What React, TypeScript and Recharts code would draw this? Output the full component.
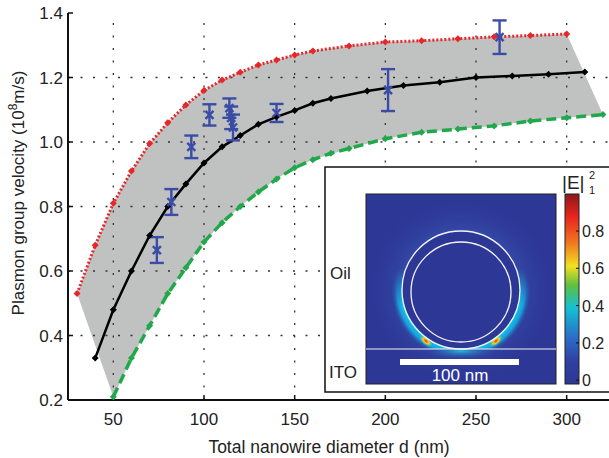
import {
  ComposedChart,
  Area,
  Line,
  Scatter,
  ErrorBar,
  XAxis,
  YAxis,
  ReferenceLine,
  Label,
} from "recharts";

// upper bound (red dotted)
const redX = [30, 40, 50, 60, 70, 80, 90, 100, 110, 120, 130, 140, 150, 160, 180, 200, 220, 240, 260, 280, 300];
const redY = [0.53, 0.68, 0.81, 0.91, 0.995, 1.06, 1.115, 1.16, 1.192, 1.216, 1.239, 1.254, 1.27, 1.282, 1.298, 1.31, 1.314, 1.32, 1.326, 1.33, 1.335];

// lower bound (green dashed)
const greenX = [50, 60, 70, 80, 90, 100, 110, 120, 130, 140, 150, 160, 170, 180, 200, 220, 240, 260, 280, 300, 320];
const greenY = [0.21, 0.33, 0.43, 0.53, 0.61, 0.69, 0.75, 0.8, 0.845, 0.885, 0.92, 0.945, 0.965, 0.98, 1.01, 1.03, 1.04, 1.05, 1.065, 1.075, 1.085];

// simulation (black)
const blackX = [40, 50, 60, 70, 80, 90, 100, 110, 120, 130, 140, 150, 160, 170, 190, 210, 230, 250, 270, 290, 310];
const blackY = [0.33, 0.48, 0.6, 0.71, 0.8, 0.87, 0.935, 0.985, 1.02, 1.055, 1.078, 1.098, 1.12, 1.135, 1.158, 1.175, 1.185, 1.2, 1.205, 1.21, 1.217];

// measured points (blue)
const expX = [74, 82, 93, 103, 114, 115, 116, 140, 201.5, 263];
const expY = [0.665, 0.814, 0.985, 1.084, 1.105, 1.075, 1.045, 1.09, 1.161, 1.325];
const expErr = [0.04, 0.04, 0.035, 0.033, 0.03, 0.035, 0.04, 0.028, 0.065, 0.052];

// band edge corners
const bandLeftX = [30, 40];
const bandLeftLow = [0.53, 0.37];
const bandRightX = [320];
const bandRightHigh = [1.085];

const xTicks = [50, 100, 150, 200, 250, 300];
const yTicks = [0.2, 0.4, 0.6, 0.8, 1.0, 1.2, 1.4];
const gridY = [0.4, 0.6, 0.8, 1.0, 1.2];
const cbarTicks = ["0.8", "0.6", "0.4", "0.2", "0"];

const redData = redX.map((x, i) => ({ x, y: redY[i] }));
const greenData = greenX.map((x, i) => ({ x, y: greenY[i] }));
const blackData = blackX.map((x, i) => ({ x, y: blackY[i] }));
const expData = expX.map((x, i) => ({ x, y: expY[i], err: expErr[i] }));

const bandData = [
  ...bandLeftX.map((x, i) => ({ x, band: [bandLeftLow[i], redY[redX.indexOf(x)]] })),
  ...redX
    .filter((x) => greenX.includes(x))
    .map((x) => ({ x, band: [greenY[greenX.indexOf(x)], redY[redX.indexOf(x)]] })),
  ...bandRightX.map((x, i) => ({ x, band: [greenY[greenX.indexOf(x)], bandRightHigh[i]] })),
];

const FONT = "'Liberation Sans', Arial, sans-serif";
const BLUE = "#3a4ca6";
const GRID = { stroke: "#333", strokeDasharray: "2 10.5", strokeWidth: 1.3 };

const diamond = (color: string, r: number) => (props: any) => {
  const { cx, cy, index } = props;
  if (cx == null || cy == null) return <g key={index} />;
  return (
    <path
      key={index}
      d={`M${cx},${cy - r}L${cx + r},${cy}L${cx},${cy + r}L${cx - r},${cy}Z`}
      fill={color}
    />
  );
};

const XMark = (props: any) => {
  const { cx, cy } = props;
  const s = 4;
  return (
    <g stroke={BLUE} strokeWidth={2.4}>
      <line x1={cx - s} y1={cy - s} x2={cx + s} y2={cy + s} />
      <line x1={cx - s} y1={cy + s} x2={cx + s} y2={cy - s} />
    </g>
  );
};

const Inset = () => (
  <svg
    width={609}
    height={458}
    style={{ position: "absolute", left: 0, top: 0, pointerEvents: "none" }}
    fontFamily={FONT}
  >
    <defs>
      <linearGradient id="jet" x1="0" y1="0" x2="0" y2="1">
        <stop offset="0" stopColor="#8b1a1a" />
        <stop offset="0.12" stopColor="#e8241e" />
        <stop offset="0.26" stopColor="#f07a20" />
        <stop offset="0.38" stopColor="#f2e020" />
        <stop offset="0.48" stopColor="#60c040" />
        <stop offset="0.6" stopColor="#14c0d4" />
        <stop offset="0.76" stopColor="#2a6cc6" />
        <stop offset="0.88" stopColor="#3040a0" />
        <stop offset="1" stopColor="#2d3796" />
      </linearGradient>
      <radialGradient id="halo" cx={461} cy={290} r={72} gradientUnits="userSpaceOnUse">
        <stop offset="0.8" stopColor="#2d3796" stopOpacity={0} />
        <stop offset="0.82" stopColor="#10c8e8" stopOpacity={1} />
        <stop offset="0.89" stopColor="#18a8e0" stopOpacity={0.9} />
        <stop offset="0.98" stopColor="#2d3796" stopOpacity={0} />
      </radialGradient>
      <radialGradient id="hot">
        <stop offset="0" stopColor="#e83020" />
        <stop offset="0.45" stopColor="#f2d020" />
        <stop offset="1" stopColor="#40d0a0" stopOpacity={0} />
      </radialGradient>
      <radialGradient id="under">
        <stop offset="0" stopColor="#28c4e0" stopOpacity={0.9} />
        <stop offset="1" stopColor="#2d3796" stopOpacity={0} />
      </radialGradient>
      <radialGradient id="bgGlow" cx={461} cy={290} r={95} gradientUnits="userSpaceOnUse">
        <stop offset="0.55" stopColor="#3a5ab8" stopOpacity={0.7} />
        <stop offset="1" stopColor="#2d3796" stopOpacity={0} />
      </radialGradient>
      <linearGradient id="fadeGrad" x1={0} y1={268} x2={0} y2={305} gradientUnits="userSpaceOnUse">
        <stop offset="0" stopColor="#000" />
        <stop offset="1" stopColor="#fff" />
      </linearGradient>
      <mask id="fade">
        <rect x={366} y={194} width={190} height={155} fill="url(#fadeGrad)" />
      </mask>
      <clipPath id="belowLine">
        <rect x={366} y={349} width={190} height={20} />
      </clipPath>
    </defs>
    <rect x={325} y={167} width={300} height={225} fill="#fff" stroke="#111" strokeWidth={1.5} />
    <text x={330} y={279} fontSize={17} fill="#222">Oil</text>
    <text x={329} y={378} fontSize={17} fill="#222">ITO</text>
    <rect x={366} y={194} width={190} height={190} fill="#2d3796" stroke="#222" strokeWidth={1} />
    <circle cx={461} cy={290} r={95} fill="url(#bgGlow)" />
    <circle cx={461} cy={290} r={59} fill="#2d3796" />
    <circle cx={461} cy={290} r={72} fill="url(#halo)" mask="url(#fade)" />
    <ellipse cx={461} cy={351} rx={40} ry={9} fill="url(#under)" clipPath="url(#belowLine)" />
    <ellipse cx={426} cy={341} rx={8} ry={4} fill="url(#hot)" transform="rotate(40 426 341)" />
    <ellipse cx={496} cy={341} rx={8} ry={4} fill="url(#hot)" transform="rotate(-40 496 341)" />
    <circle cx={461} cy={290} r={59} fill="none" stroke="#f4f4f8" strokeWidth={1.3} />
    <circle cx={461} cy={292} r={50} fill="none" stroke="#f4f4f8" strokeWidth={1.3} />
    <line x1={366} y1={349} x2={556} y2={349} stroke="#f4f4f8" strokeWidth={1.2} />
    <rect x={400} y={359} width={119} height={6} fill="#fff" />
    <text x={460} y={381} fontSize={17} fill="#fff" textAnchor="middle">100 nm</text>
    <rect x={565} y={194} width={14} height={190} fill="url(#jet)" stroke="#222" strokeWidth={1} />
    {cbarTicks.map((t, i) => {
      const y = 231 + i * 37.3;
      return (
        <g key={t}>
          <line x1={576} y1={y} x2={579} y2={y} stroke="#111" />
          <text x={582} y={y + 6} fontSize={16} fill="#222">{t}</text>
        </g>
      );
    })}
    <text x={562} y={189} fontSize={19} fill="#222">|E|</text>
    <text x={589} y={179} fontSize={11} fill="#222">2</text>
    <text x={589} y={194} fontSize={11} fill="#222">1</text>
  </svg>
);

export default function App() {
  return (
    <div style={{ position: "absolute", left: 0, top: 0, width: 609, height: 458, overflow: "hidden", background: "#fff" }}>
      <ComposedChart width={612} height={458} margin={{ top: 13, right: 0, bottom: 0, left: 0 }}>
        <Area
          data={bandData}
          dataKey="band"
          type="linear"
          fill="#c0c1c1"
          fillOpacity={1}
          stroke="none"
          isAnimationActive={false}
        />
        {xTicks.map((x) => (
          <ReferenceLine key={`gx${x}`} x={x} {...GRID} />
        ))}
        {gridY.map((y) => (
          <ReferenceLine key={`gy${y}`} y={y} {...GRID} />
        ))}
        <XAxis
          xAxisId="top"
          orientation="top"
          type="number"
          dataKey="x"
          domain={[25, 325]}
          ticks={xTicks}
          height={0}
          tickSize={-5}
          tick={() => <g />}
          axisLine={{ stroke: "#111", strokeWidth: 2 }}
          tickLine={{ stroke: "#111", strokeWidth: 1.5 }}
        />
        <XAxis
          type="number"
          dataKey="x"
          domain={[25, 325]}
          allowDataOverflow
          ticks={xTicks}
          height={58}
          tickSize={-5}
          tickMargin={18}
          tick={{ fontSize: 17, fill: "#222", fontFamily: FONT }}
          axisLine={{ stroke: "#111", strokeWidth: 2 }}
          tickLine={{ stroke: "#111", strokeWidth: 1.5 }}
        >
          <Label
            content={() => (
              <text x={329} y={453} textAnchor="middle" fontSize={17.5} fill="#222" fontFamily={FONT}>
                Total nanowire diameter d (nm)
              </text>
            )}
          />
        </XAxis>
        <YAxis
          type="number"
          domain={[0.2, 1.4]}
          allowDataOverflow
          ticks={yTicks}
          width={68}
          tickSize={-5}
          tickMargin={10}
          tickFormatter={(v: number) => v.toFixed(1)}
          tick={{ fontSize: 17, fill: "#222", fontFamily: FONT }}
          axisLine={{ stroke: "#111", strokeWidth: 2 }}
          tickLine={{ stroke: "#111", strokeWidth: 1.5 }}
        >
          <Label
            content={() => (
              <text
                transform="translate(24,193) rotate(-90)"
                textAnchor="middle"
                fontSize={17}
                fill="#222"
                fontFamily={FONT}
              >
                Plasmon group velocity (10
                <tspan dy={-7} fontSize={12}>8</tspan>
                <tspan dy={7}>m/s)</tspan>
              </text>
            )}
          />
        </YAxis>
        <Line
          data={redData}
          dataKey="y"
          type="linear"
          stroke="#e8262a"
          strokeWidth={3}
          strokeDasharray="2 2"
          dot={diamond("#e8262a", 3.5)}
          isAnimationActive={false}
        />
        <Line
          data={greenData}
          dataKey="y"
          type="linear"
          stroke="#20a84a"
          strokeWidth={3.5}
          strokeDasharray="10 5"
          dot={diamond("#20a84a", 3.5)}
          isAnimationActive={false}
        />
        <Line
          data={blackData}
          dataKey="y"
          type="linear"
          stroke="#000"
          strokeWidth={2.5}
          dot={diamond("#000", 3.5)}
          isAnimationActive={false}
        />
        <Scatter data={expData} dataKey="y" shape={XMark} isAnimationActive={false}>
          <ErrorBar dataKey="err" direction="y" width={7} stroke={BLUE} strokeWidth={2.4} />
        </Scatter>
      </ComposedChart>
      <Inset />
    </div>
  );
}
